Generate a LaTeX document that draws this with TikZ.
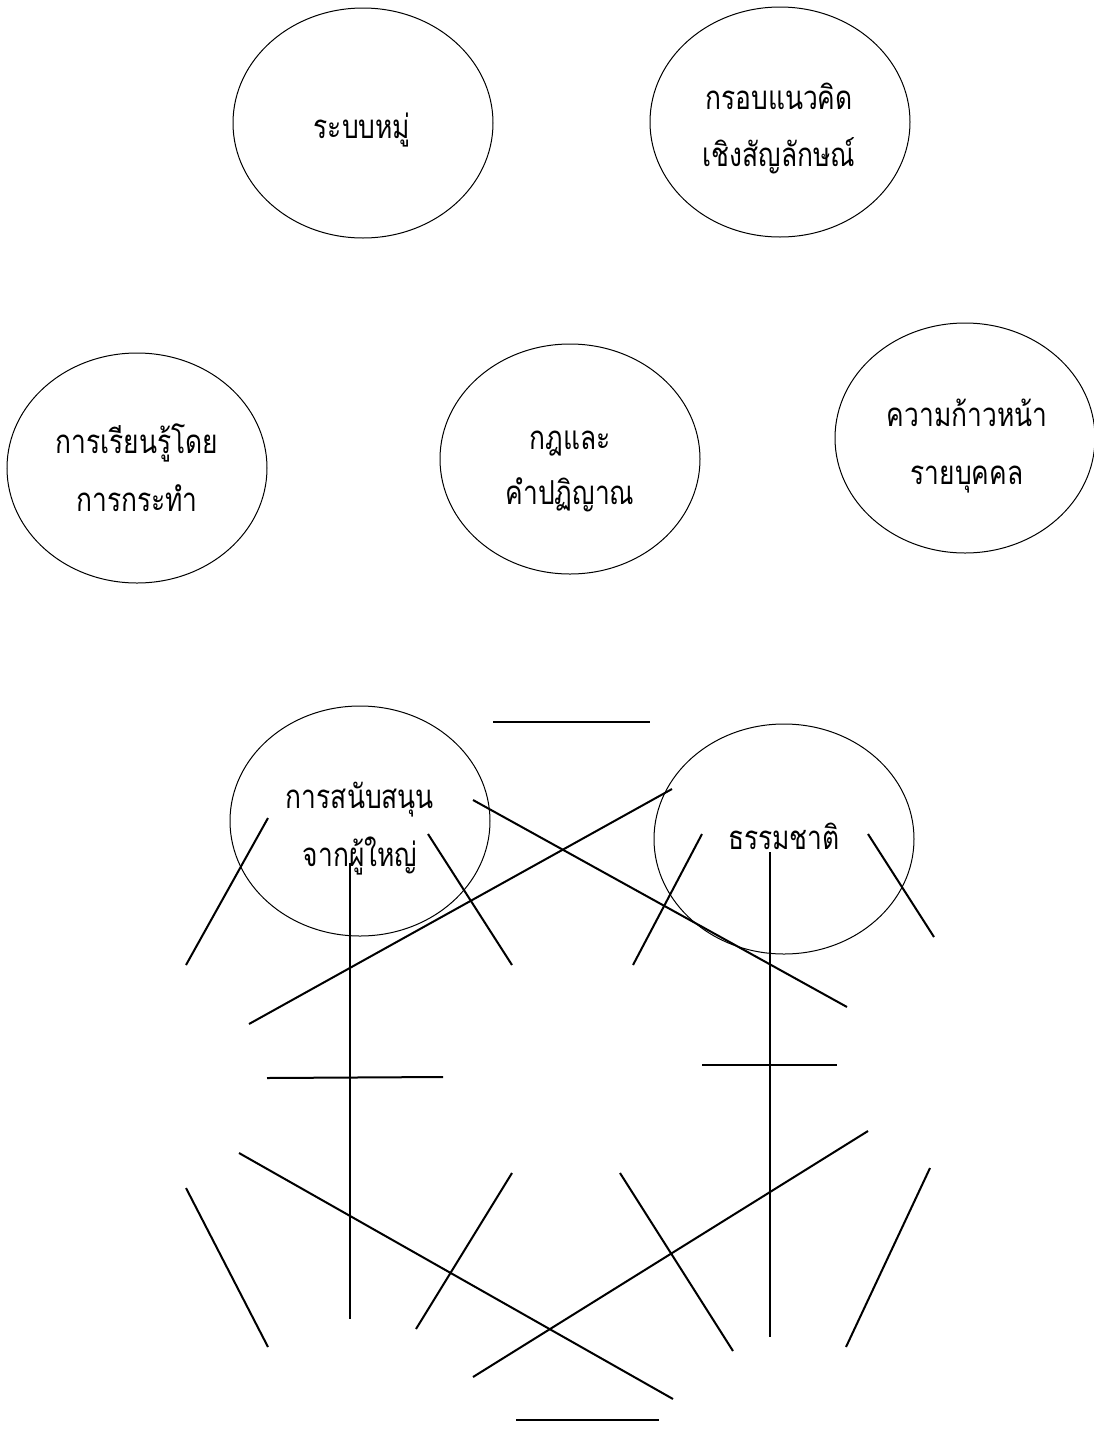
\documentclass[tikz,border=0pt]{standalone}
\usepackage{fontspec}
\newfontfamily\thaifont[Script=Thai,FakeStretch=0.8]{Loma}
\usetikzlibrary{shapes.geometric}
\tikzset{
  bubble/.style={draw, ellipse, line width=1pt, minimum width=260pt, minimum height=230pt, inner sep=0pt},
  lbl/.style={anchor=base, inner sep=0pt, font=\thaifont\fontsize{33}{38}\selectfont},
  seg/.style={line width=2pt}
}
\begin{document}
\begin{tikzpicture}[x=1pt,y=-1pt]
\useasboundingbox (0,0) rectangle (1094,1454);
% ellipses
\node[bubble] (e1) at (363,123) {};
\node[bubble] (e2) at (780,122) {};
\node[bubble] (e3) at (137,468) {};
\node[bubble] (e4) at (570,459) {};
\node[bubble] (e5) at (965,438) {};
\node[bubble] (e6) at (360,821) {};
\node[bubble] (e7) at (784,839) {};
% labels
\node[lbl] (t1) at (362,138) {ระบบหมู่};
\node[lbl] (t2a) at (779,109) {กรอบแนวคิด};
\node[lbl] (t2b) at (779,166) {เชิงสัญลักษณ์};
\node[lbl] (t3a) at (137,453) {การเรียนรู้โดย};
\node[lbl] (t3b) at (137,511) {การกระทำ};
\node[lbl] (t4a) at (570,449) {กฎและ};
\node[lbl] (t4b) at (570,504) {คำปฏิญาณ};
\node[lbl] (t5a) at (967,426) {ความก้าวหน้า};
\node[lbl] (t5b) at (967,484) {รายบุคคล};
\node[lbl] (t6a) at (360,808) {การสนับสนุน};
\node[lbl] (t6b) at (360,866) {จากผู้ใหญ่};
\node[lbl] (t7) at (784,849) {ธรรมชาติ};
% segment end points
\coordinate (h1a) at (493,722); \coordinate (h1b) at (650,722);
\coordinate (h2a) at (516,1420); \coordinate (h2b) at (659,1420);
\coordinate (l1a) at (268,818); \coordinate (l1b) at (186,965);
\coordinate (l2a) at (428,834); \coordinate (l2b) at (512,965);
\coordinate (v1a) at (350,863); \coordinate (v1b) at (350,1319);
\coordinate (d1a) at (672,789); \coordinate (d1b) at (249,1024);
\coordinate (d2a) at (473,800); \coordinate (d2b) at (847,1007);
\coordinate (h3a) at (267,1078); \coordinate (h3b) at (443,1077);
\coordinate (r1a) at (702,834); \coordinate (r1b) at (633,965);
\coordinate (r2a) at (868,834); \coordinate (r2b) at (934,937);
\coordinate (v2a) at (770,852); \coordinate (v2b) at (770,1337);
\coordinate (h4a) at (702,1065); \coordinate (h4b) at (837,1065);
\coordinate (b1a) at (186,1188); \coordinate (b1b) at (268,1347);
\coordinate (d3a) at (239,1153); \coordinate (d3b) at (673,1399);
\coordinate (b2a) at (512,1173); \coordinate (b2b) at (416,1329);
\coordinate (d4a) at (868,1131); \coordinate (d4b) at (473,1377);
\coordinate (b3a) at (620,1173); \coordinate (b3b) at (733,1351);
\coordinate (b4a) at (930,1168); \coordinate (b4b) at (846,1347);
% segments
\draw[seg] (h1a) -- (h1b);
\draw[seg] (h2a) -- (h2b);
\draw[seg] (l1a) -- (l1b);
\draw[seg] (l2a) -- (l2b);
\draw[seg] (v1a) -- (v1b);
\draw[seg] (d1a) -- (d1b);
\draw[seg] (d2a) -- (d2b);
\draw[seg] (h3a) -- (h3b);
\draw[seg] (r1a) -- (r1b);
\draw[seg] (r2a) -- (r2b);
\draw[seg] (v2a) -- (v2b);
\draw[seg] (h4a) -- (h4b);
\draw[seg] (b1a) -- (b1b);
\draw[seg] (d3a) -- (d3b);
\draw[seg] (b2a) -- (b2b);
\draw[seg] (d4a) -- (d4b);
\draw[seg] (b3a) -- (b3b);
\draw[seg] (b4a) -- (b4b);
\end{tikzpicture}
\end{document}
